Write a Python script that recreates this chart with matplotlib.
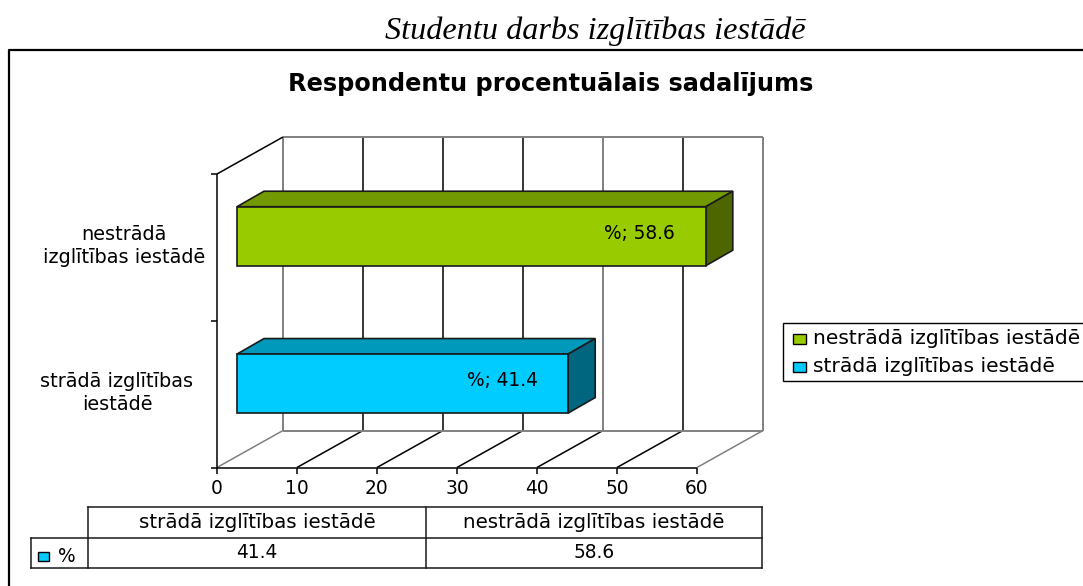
import matplotlib
matplotlib.use('Agg')
import matplotlib.pyplot as plt
from matplotlib.patches import Polygon, Rectangle

# === data ===
CATEGORIES = ['strādā izglītības iestādē', 'nestrādā izglītības iestādē']
CAT_LABELS = ['strādā izglītības\niestādē', 'nestrādā\nizglītības iestādē']
VALUES = [41.4, 58.6]
X_TICKS = [0, 10, 20, 30, 40, 50, 60]
SERIES = '%'

# === cfg ===
W, H = 1083, 586
FONT = 'DejaVu Sans'   # wide, the ref text is stretched
FS = 14.3
FS_NUM = 13.4
FRONT = ['#00ccff', '#99cc00']
TOP = ['#0099bb', '#739900']
SIDE = ['#006680', '#4d6600']
GRAY = '#808080'

fig = plt.figure(figsize=(W / 100, H / 100), dpi=100)

# page overlay in px coords
pg = fig.add_axes([0, 0, 1, 1])
pg.set_xlim(0, W)
pg.set_ylim(H, 0)
pg.axis('off')

# plot axes: px 217..697 and 467.5..174
ax = fig.add_axes([217 / W, 1 - 467.5 / H, 480 / W, 293.5 / H])
ax.set_xlim(0, 60)
ax.set_ylim(0, 2)
ax.axis('off')

px_x = 60 / 480
px_y = 2 / 293.5
dx, dy = 66 * px_x, 37 * px_y        # wall depth
bx, by = 27 * px_x, 15.5 * px_y      # bar depth
x0 = 20 * px_x                       # bar start
bar_h = 59 * px_y
centers = [0.572, 1.576]
label_x = [117, 124]                 # cat label centres, px
label_y = [393, 246]


def ln(xs, ys, c='black', lw=1.1, z=1):
    ax.plot(xs, ys, color=c, lw=lw, clip_on=False, zorder=z, solid_capstyle='butt')


# --- walls and grid ---
for t in X_TICKS:
    c = GRAY if t in (0, 40, 60) else 'black'
    ln([t + dx, t + dx], [dy, 2 + dy], c=c, lw=1.4 if c == GRAY else 1.1)
    ln([t, t + dx], [0, dy], c=GRAY if t in (0, 60) else 'black')
    ln([t, t], [0, -6 * px_y])
    ax.text(t, -21 * px_y, str(t), ha='center', va='center', family=FONT, fontsize=FS_NUM)
ln([dx, 60 + dx], [dy, dy], c=GRAY, lw=1.4)
ln([dx, 60 + dx], [2 + dy, 2 + dy], c=GRAY, lw=1.4)
ln([0, 60], [0, 0])
ln([0, 0], [0, 2])
ln([0, dx], [2, 2 + dy])
for y in (0, 1, 2):
    ln([0, -6 * px_x], [y, y])

# --- bars ---
for i, v in enumerate(VALUES):
    y1 = centers[i] - bar_h / 2
    y2 = centers[i] + bar_h / 2
    x1 = x0 + v
    ec = dict(edgecolor='#1a1a1a', lw=1.2, zorder=3, clip_on=False)
    ax.add_patch(Polygon([(x0, y2), (x1, y2), (x1 + bx, y2 + by), (x0 + bx, y2 + by)], facecolor=TOP[i], **ec))
    ax.add_patch(Polygon([(x1, y1), (x1 + bx, y1 + by), (x1 + bx, y2 + by), (x1, y2)], facecolor=SIDE[i], **ec))
    ax.add_patch(Polygon([(x0, y1), (x1, y1), (x1, y2), (x0, y2)], facecolor=FRONT[i], **ec))
    ax.text(x1 - 66 * px_x, centers[i] + 3 * px_y, f'{SERIES}; {v}', ha='center', va='center',
            family=FONT, fontsize=FS_NUM, zorder=4)
    pg.text(label_x[i], label_y[i], CAT_LABELS[i], ha='center', va='center',
            family=FONT, fontsize=FS - 0.4, linespacing=1.3)

# --- page text, frame ---
pg.text(595, 31, 'Studentu darbs izglītības iestādē', ha='center', va='center',
        family='Liberation Serif', style='italic', fontsize=23.2)
pg.text(551, 84, 'Respondentu procentuālais sadalījums', ha='center', va='center',
        family=FONT, weight='bold', fontsize=17.3)
pg.plot([9, 9, W], [H, 50, 50], color='black', lw=1.6)

# --- legend ---
pg.add_patch(Rectangle((783, 323), 320, 58, facecolor='white', edgecolor='black', lw=1))
for k, yy in enumerate((339, 367)):
    i = 1 - k
    pg.add_patch(Rectangle((793, yy - 5), 13, 10, facecolor=FRONT[i], edgecolor='black', lw=1))
    pg.text(813, yy, CATEGORIES[i], va='center', family=FONT, fontsize=FS + 0.3)

# --- data table ---
c0, c1, c2, c3 = 88, 426, 762, 31
r0, r1, r2 = 507, 538, 568
for xs, ys in [([c0, c2], [r0, r0]), ([c3, c2], [r1, r1]), ([c3, c2], [r2, r2]),
               ([c3, c3], [r1, r2]), ([c0, c0], [r0, r2]), ([c1, c1], [r0, r2]), ([c2, c2], [r0, r2])]:
    pg.plot(xs, ys, color='#1a1a1a', lw=1.1)
for (a, b), name, v in zip([(c0, c1), (c1, c2)], CATEGORIES, VALUES):
    pg.text((a + b) / 2, (r0 + r1) / 2, name, ha='center', va='center', family=FONT, fontsize=FS)
    pg.text((a + b) / 2, (r1 + r2) / 2, str(v), ha='center', va='center', family=FONT, fontsize=FS_NUM)
pg.add_patch(Rectangle((38, 552), 11, 9, facecolor=FRONT[0], edgecolor='black', lw=1))
pg.text(67, 556, SERIES, ha='center', va='center', family=FONT, fontsize=FS_NUM)

fig.savefig('out.png', dpi=100)
